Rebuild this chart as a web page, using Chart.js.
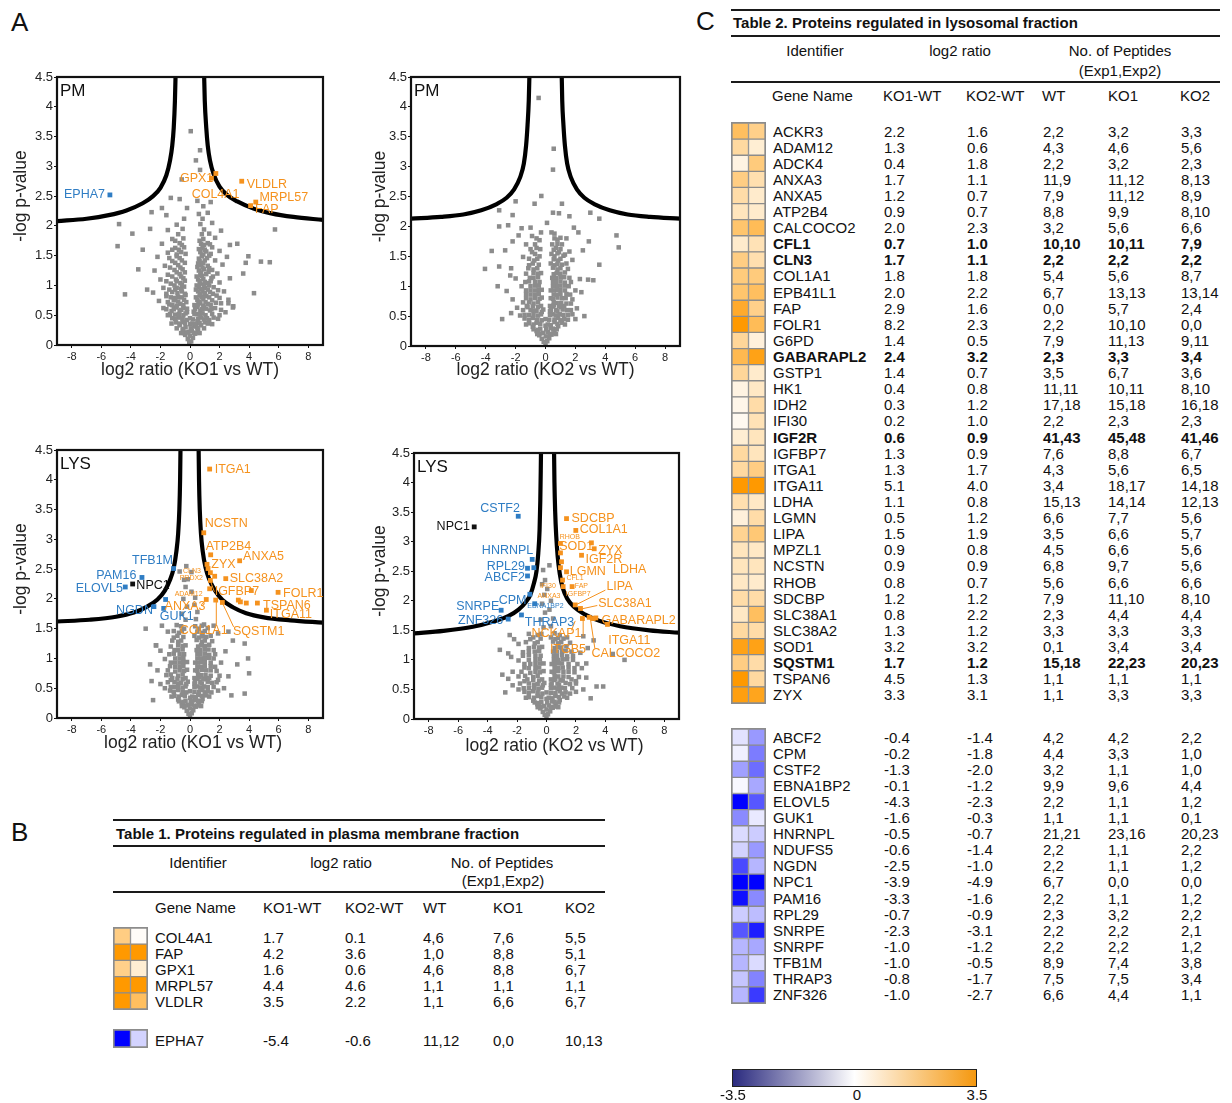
<!DOCTYPE html>
<html lang="en">
<head>
<meta charset="UTF-8">
<title>Volcano plots and regulated proteins</title>
<script src="https://cdn.jsdelivr.net/npm/chart.js"></script>
<style>
  body { margin: 0; background: #fff; font-family: 'Liberation Sans', Arial, sans-serif; color: #111; }
  #page { position: relative; width: 1232px; height: 1103px; overflow: hidden; }
  .abs { position: absolute; white-space: nowrap; line-height: 1; }
  .rule { position: absolute; height: 2px; background: #1a1a1a; }
  canvas { position: absolute; }
  .heat { outline: 1px solid #8c8c8c; }
  #cbar { position: absolute; left: 732px; top: 1069px; width: 243px; height: 16px; border: 1px solid #222;
          background: linear-gradient(to right, #2b2b7f 0%, #ffffff 50%, #f5980f 100%); }
</style>
</head>
<body>
<div id="page"><div id="cbar"></div></div>
<script>
// ---------- data: volcano plots ----------
const xTicks = [-8, -6, -4, -2, 0, 2, 4, 6, 8];
const yTicks = [0, 0.5, 1, 1.5, 2, 2.5, 3, 3.5, 4, 4.5];

// PM, KO1 vs WT
const pm1Gray = [
  [-0.05,0.03],[0.08,0.06],[-0.15,0.1],[0.2,0.12],[0.0,0.15],[-0.32,0.17],[0.35,0.19],[-0.1,0.22],[0.12,0.24],[-0.5,0.25],[0.55,0.26],[-0.3,0.3],[0.3,0.31],[-0.7,0.33],[0.75,0.33],[0.0,0.35],
  [-0.95,0.38],[-0.5,0.39],[0.5,0.4],[1.0,0.38],[-0.2,0.42],[0.2,0.43],[1.3,0.42],[-1.2,0.45],[-0.75,0.46],[0.75,0.46],[1.6,0.46],
  [-1.5,0.5],[-1.0,0.51],[-0.45,0.5],[0.45,0.52],[1.05,0.5],[2.0,0.5],[-0.2,0.55],[0.25,0.56],[-1.25,0.57],[-0.7,0.58],[0.7,0.57],[1.35,0.58],[2.4,0.55],
  [-1.8,0.62],[-0.95,0.63],[-0.45,0.62],[0.5,0.64],[0.95,0.63],[1.7,0.62],[2.9,0.63],[-1.4,0.68],[-0.65,0.69],[0.7,0.7],[1.2,0.69],[2.1,0.7],
  [-2.1,0.74],[-1.1,0.75],[-0.4,0.76],[0.5,0.76],[0.9,0.77],[1.5,0.75],[2.6,0.76],[-1.6,0.82],[-0.8,0.81],[-0.3,0.84],[0.65,0.83],[1.1,0.82],[1.8,0.83],
  [-2.5,0.88],[-1.2,0.89],[-0.55,0.9],[0.55,0.9],[0.85,0.9],[1.35,0.89],[2.3,0.9],[-1.8,0.96],[-0.9,0.96],[-0.4,0.98],[0.6,0.97],[1.0,0.96],[1.6,0.97],
  [-1.3,1.03],[-0.65,1.04],[0.7,1.03],[1.2,1.04],[2.0,1.05],[-2.0,1.1],[-0.95,1.1],[-0.45,1.12],[0.55,1.1],[0.9,1.11],[1.45,1.12],[2.7,1.12],
  [-1.5,1.18],[-0.7,1.19],[0.7,1.18],[1.1,1.19],[1.85,1.2],[-2.4,1.25],[-1.05,1.26],[-0.5,1.27],[0.6,1.25],[0.95,1.27],[1.5,1.26],
  [-1.7,1.33],[-0.8,1.34],[0.75,1.34],[1.2,1.33],[2.2,1.35],[-1.2,1.41],[-0.55,1.42],[0.65,1.41],[1.0,1.42],[1.7,1.42],[-2.2,1.48],[-0.9,1.49],[0.8,1.49],[1.3,1.5],[2.5,1.48],
  [-1.5,1.55],[-0.6,1.56],[0.7,1.56],[1.1,1.57],[2.0,1.58],[-1.0,1.63],[-0.4,1.64],[0.85,1.63],[1.5,1.64],[-1.9,1.7],[-0.7,1.71],[0.75,1.7],[1.2,1.71],[2.7,1.68],
  [-1.2,1.78],[-0.45,1.79],[0.9,1.78],[1.7,1.8],[-0.8,1.86],[0.8,1.86],[1.3,1.87],[-1.5,1.93],[-0.5,1.95],[0.95,1.94],[2.1,1.92],[-0.9,2.02],[0.7,2.03],[1.5,2.05],
  [-0.4,2.12],[0.85,2.12],[-1.6,2.18],[0.6,2.2],[1.2,2.22],[-0.2,2.3],[0.9,2.33],[0.5,2.42],[1.4,2.4],[-0.7,2.45],
  [0.05,3.59],[0.68,3.27],[0.4,3.1],[0.68,2.94],[-0.56,2.78],[-1.3,2.47],[-2.6,2.23],[-1.9,2.3],[-4.8,2.03],[-3.9,1.87],[-4.9,1.66],[-3.5,1.27],[-2.9,0.93],[-4.4,0.85],
  [5.75,1.94],[3.95,1.49],[3.77,1.38],[4.8,1.4],[5.4,1.39],[4.33,0.87],[2.93,0.65],[2.6,0.7],[-3.2,1.6],[-2.7,1.95],[3.2,1.7],[3.6,1.2]
];
const pm1Dense = [
  [-0.6,0.2],[-0.4,0.2],[-0.2,0.21],[0.25,0.2],[0.45,0.21],[0.65,0.2],[-0.9,0.28],[-0.45,0.27],[0.05,0.28],[0.5,0.29],[0.95,0.28],
  [-1.25,0.36],[-0.7,0.36],[-0.35,0.37],[0.15,0.36],[0.4,0.35],[0.65,0.37],[1.2,0.36],[1.5,0.35],[-1.0,0.44],[-0.5,0.44],[0.0,0.45],[0.55,0.44],[0.95,0.43],[1.15,0.45],[1.9,0.44],
  [-1.35,0.52],[-0.75,0.52],[-0.3,0.53],[0.3,0.52],[0.65,0.51],[0.85,0.53],[1.5,0.52],[-1.6,0.6],[-1.1,0.6],[-0.6,0.59],[-0.2,0.61],[0.35,0.6],[0.8,0.6],[1.1,0.61],[1.45,0.6],[2.1,0.59],
  [-1.2,0.67],[-0.9,0.66],[-0.45,0.67],[0.3,0.67],[0.55,0.68],[0.9,0.66],[1.4,0.67],[-1.5,0.72],[-0.8,0.73],[-0.25,0.72],[0.6,0.73],[1.05,0.72],[1.75,0.71],
  [-1.3,0.8],[-1.0,0.79],[-0.55,0.8],[0.4,0.8],[0.8,0.81],[1.3,0.8],[2.0,0.79],[-1.6,0.86],[-0.85,0.87],[-0.35,0.86],[0.7,0.86],[1.0,0.87],[1.55,0.86],
  [-1.4,0.93],[-1.0,0.93],[-0.6,0.94],[0.4,0.93],[0.75,0.94],[1.2,0.93],[1.9,0.92],[-1.05,1.0],[-0.55,1.01],[0.45,1.0],[0.95,1.01],[1.3,1.0],
  [-1.6,1.07],[-0.9,1.07],[-0.35,1.08],[0.65,1.07],[1.0,1.06],[1.4,1.07],[-1.2,1.15],[-0.6,1.15],[0.45,1.15],[0.8,1.16],[1.55,1.15],
  [-0.9,1.22],[-0.35,1.22],[0.75,1.22],[1.25,1.23],[-1.35,1.3],[-0.65,1.3],[0.5,1.31],[0.85,1.3],[1.3,1.29],[-1.0,1.38],[-0.35,1.38],[0.55,1.37],[0.9,1.38],
  [-1.4,1.46],[-0.7,1.46],[0.6,1.45],[1.15,1.46],[-0.9,1.52],[-0.3,1.53],[0.9,1.52],[1.4,1.53],[-1.2,1.6],[-0.75,1.6],[0.6,1.61],[1.0,1.6],[-0.55,1.68],[0.95,1.68],[1.35,1.69],[-1.0,1.75],[0.65,1.75]
];
const pm1CurveL = [[-9,2.08],[-7,2.12],[-5.5,2.18],[-4.3,2.26],[-3.2,2.38],[-2.5,2.5],[-2.0,2.64],[-1.6,2.85],[-1.35,3.1],[-1.2,3.35],[-1.1,3.65],[-1.02,4.1],[-0.97,4.6]];
const pm1CurveR = [[0.95,4.6],[1.0,4.1],[1.1,3.65],[1.2,3.35],[1.35,3.1],[1.6,2.87],[2.0,2.66],[2.5,2.52],[3.2,2.41],[4.3,2.29],[5.5,2.21],[7,2.15],[9,2.1]];
const pm1Hits = [[-5.42,2.52],[1.45,2.8],[1.75,2.88],[3.5,2.75],[4.45,2.4],[4.1,2.34]];
const pm1HitKind = ['down','up','up','up','up','up'];

// PM, KO2 vs WT
const pm2Gray = [
  [0.0,0.03],[-0.12,0.07],[0.12,0.08],[-0.25,0.12],[0.25,0.13],[0.02,0.16],[-0.42,0.18],[0.4,0.19],[-0.15,0.22],[0.15,0.23],[-0.6,0.25],[0.6,0.26],[-0.35,0.29],[0.35,0.3],[-0.85,0.32],[0.85,0.33],[0.0,0.34],
  [-1.1,0.38],[-0.6,0.39],[0.6,0.4],[1.1,0.39],[-0.25,0.43],[0.25,0.44],[1.5,0.44],[-1.4,0.46],[-0.85,0.47],[0.85,0.47],[2.0,0.45],
  [-1.7,0.51],[-1.1,0.52],[-0.5,0.51],[0.5,0.53],[1.2,0.52],[1.8,0.53],[-2.3,0.55],[-0.25,0.57],[0.3,0.58],[-0.8,0.59],[0.8,0.58],[1.45,0.6],
  [-1.9,0.64],[-1.2,0.65],[-0.5,0.65],[0.5,0.66],[1.05,0.65],[2.1,0.63],[-0.8,0.71],[0.75,0.72],[1.4,0.71],[-1.5,0.73],
  [-2.2,0.78],[-1.0,0.78],[-0.4,0.79],[0.5,0.79],[1.1,0.8],[1.8,0.78],[-0.7,0.86],[0.75,0.86],[1.4,0.87],[-1.3,0.87],
  [-2.6,0.92],[-1.0,0.93],[-0.45,0.94],[0.55,0.93],[1.0,0.94],[2.0,0.93],[-1.6,1.0],[-0.7,1.01],[0.75,1.0],[1.3,1.01],[-0.4,1.07],[0.5,1.07],[1.0,1.08],[1.7,1.07],[-1.1,1.08],
  [-2.0,1.13],[-0.8,1.14],[0.7,1.14],[1.25,1.15],[2.3,1.12],[-1.3,1.21],[-0.5,1.21],[0.55,1.2],[1.0,1.21],[-0.8,1.28],[0.8,1.28],[1.5,1.29],[-2.3,1.3],[-1.1,1.35],[-0.45,1.36],[0.6,1.35],[1.1,1.36],
  [-0.75,1.43],[0.85,1.43],[1.8,1.44],[-1.5,1.49],[-0.4,1.5],[0.6,1.5],[1.2,1.51],[-0.9,1.57],[0.9,1.57],[1.6,1.58],[-0.6,1.64],[0.7,1.64],[-1.3,1.7],[1.1,1.7],[-0.4,1.77],[0.8,1.78],[1.4,1.8],[-0.9,1.84],[0.6,1.88],
  [-0.46,4.15],[0.55,3.3],[0.5,2.95],[-0.28,2.51],[-0.73,2.38],[-2.0,2.42],[1.1,2.38],[-3.1,2.27],[-2.2,2.19],[0.5,2.23],[0.9,2.22],[1.6,2.17],[3.0,2.23],[3.6,2.13],
  [-3.1,2.0],[-2.5,2.02],[-1.6,1.97],[-1.0,1.98],[0.1,2.06],[1.9,1.98],[2.2,1.9],[4.75,1.85],[4.9,1.65],[3.6,1.36],[2.85,1.11],[3.2,1.1],[2.5,1.6],[2.9,1.75],
  [-3.6,1.59],[-4.05,1.29],[-3.1,1.33],[-2.7,1.6],[-2.36,1.18],[-2.9,0.45],[-2.2,1.75],[-1.8,1.85],[2.4,0.9],[2.6,0.5],[-3.2,1.0]
];
const pm2Dense = [
  [-0.55,0.2],[-0.35,0.21],[0.3,0.2],[0.5,0.21],[0.7,0.2],[-0.8,0.28],[-0.5,0.27],[0.05,0.28],[0.5,0.29],[0.75,0.28],
  [-1.3,0.36],[-0.8,0.36],[-0.35,0.37],[0.15,0.36],[0.35,0.35],[0.8,0.37],[1.3,0.36],[-1.1,0.44],[-0.55,0.44],[0.0,0.45],[0.6,0.44],[1.0,0.43],[1.25,0.45],
  [-1.4,0.52],[-0.8,0.52],[-0.3,0.53],[0.3,0.52],[0.7,0.51],[0.95,0.53],[1.5,0.52],[-1.5,0.6],[-1.0,0.6],[-0.6,0.59],[-0.15,0.61],[0.35,0.6],[0.7,0.6],[1.15,0.61],[1.7,0.6],
  [-1.25,0.67],[-0.85,0.66],[-0.3,0.67],[0.3,0.67],[0.55,0.68],[0.9,0.66],[1.25,0.67],[-1.1,0.73],[-0.5,0.73],[0.55,0.73],[1.05,0.72],[1.7,0.71],
  [-1.3,0.8],[-0.7,0.8],[-0.25,0.81],[0.35,0.8],[0.8,0.81],[1.35,0.8],[-1.0,0.86],[-0.45,0.87],[0.55,0.86],[1.0,0.87],[1.65,0.86],
  [-1.3,0.93],[-0.7,0.93],[-0.25,0.94],[0.35,0.93],[0.8,0.94],[1.3,0.93],[-1.0,1.0],[-0.45,1.01],[0.5,1.0],[1.0,1.01],[1.55,1.0],
  [-1.35,1.07],[-0.7,1.07],[0.7,1.07],[1.3,1.06],[-1.05,1.14],[-0.5,1.15],[0.45,1.14],[1.0,1.15],[1.6,1.14],[-0.8,1.22],[-0.3,1.22],[0.75,1.22],[1.3,1.23],
  [-1.15,1.3],[-0.55,1.3],[0.5,1.31],[1.0,1.3],[-0.85,1.38],[0.35,1.38],[0.8,1.37],[1.4,1.38],[-1.1,1.46],[-0.55,1.46],[0.55,1.45],[1.0,1.46],
  [-0.7,1.54],[0.4,1.54],[0.8,1.55],[1.3,1.53],[-1.0,1.62],[-0.35,1.62],[0.55,1.61],[1.0,1.62],[-0.7,1.7],[0.45,1.7],[0.8,1.71],[-0.6,1.8],[0.6,1.8],[1.0,1.81],[-0.3,1.9],[0.4,1.9]
];
const pm2CurveL = [[-9,2.13],[-7,2.16],[-5.5,2.2],[-4.3,2.27],[-3.3,2.37],[-2.6,2.48],[-2.1,2.62],[-1.7,2.82],[-1.45,3.05],[-1.3,3.35],[-1.2,3.7],[-1.12,4.1],[-1.07,4.6]];
const pm2CurveR = [[1.08,4.6],[1.12,4.1],[1.2,3.7],[1.3,3.35],[1.45,3.05],[1.7,2.82],[2.1,2.62],[2.6,2.48],[3.3,2.37],[4.3,2.27],[5.5,2.2],[7,2.16],[9,2.13]];
const pm2Hits = [];
const pm2HitKind = [];

// LYS, KO1 vs WT
const lys1Gray = [
  [0.0,0.03],[-0.1,0.07],[0.12,0.08],[-0.22,0.12],[0.22,0.13],[0.0,0.16],[-0.38,0.18],[0.4,0.19],[-0.12,0.22],[0.15,0.23],[-0.55,0.25],[0.6,0.26],[-0.3,0.29],[0.35,0.3],[-0.8,0.31],[0.85,0.32],[0.02,0.34],
  [-1.05,0.37],[-0.55,0.39],[0.55,0.39],[1.1,0.38],[-0.25,0.43],[0.3,0.44],[1.45,0.43],[-1.35,0.46],[-0.8,0.47],[0.85,0.47],[1.9,0.46],
  [-1.7,0.5],[-1.05,0.52],[-0.5,0.51],[0.5,0.53],[1.2,0.52],[2.3,0.5],[-0.25,0.57],[0.3,0.58],[-0.8,0.58],[0.8,0.58],[1.5,0.59],[-2.0,0.57],
  [-1.3,0.64],[-0.5,0.65],[0.5,0.66],[1.05,0.65],[1.9,0.64],[-0.8,0.71],[0.75,0.72],[1.4,0.71],[-1.6,0.72],[2.6,0.7],
  [-1.0,0.78],[-0.4,0.79],[0.5,0.79],[1.1,0.8],[1.8,0.79],[-2.2,0.8],[-0.7,0.86],[0.75,0.86],[1.4,0.87],[-1.35,0.87],
  [-1.0,0.93],[-0.45,0.94],[0.55,0.93],[1.0,0.94],[2.1,0.93],[-1.7,0.99],[-0.7,1.0],[0.75,1.0],[1.3,1.01],[-0.4,1.07],[0.5,1.07],[1.0,1.08],[1.7,1.07],[-1.1,1.08],
  [-2.0,1.13],[-0.8,1.14],[0.7,1.14],[1.25,1.15],[2.4,1.12],[-1.3,1.2],[-0.5,1.21],[0.55,1.2],[1.0,1.21],[-0.8,1.28],[0.8,1.28],[1.5,1.29],[-2.3,1.22],[-1.1,1.35],[-0.45,1.36],[0.6,1.35],[1.1,1.36],
  [-0.75,1.43],[0.85,1.43],[1.9,1.42],[-1.5,1.45],[-0.4,1.5],[0.6,1.5],[1.2,1.51],[-0.9,1.56],[0.95,1.57],[1.6,1.55],
  [-0.3,1.65],[0.4,1.66],[-0.55,1.75],[0.5,1.78],[-0.2,1.87],[0.3,1.9],[-0.45,2.0],[0.35,2.02],[0.1,2.12],[-0.3,2.2],[-0.15,2.33],[-0.7,2.46],[-0.25,2.55],[0.1,2.45],[-0.4,2.32],
  [-3.0,1.5],[-2.5,0.3],[3.93,1.0],[4.0,0.75],[2.8,0.38],[3.7,0.41],[-2.3,1.22],[2.9,1.3],[3.7,1.25],[-2.7,0.9],[2.6,1.45],[-1.9,1.55],[3.2,0.9],[-2.6,0.62]
];
const lys1Dense = [
  [-0.55,0.2],[-0.3,0.21],[0.3,0.2],[0.5,0.21],[0.75,0.2],[-0.75,0.28],[-0.45,0.27],[0.05,0.28],[0.55,0.29],[0.8,0.28],
  [-1.25,0.36],[-0.75,0.36],[-0.35,0.37],[0.15,0.36],[0.4,0.35],[0.8,0.37],[1.3,0.36],[-1.1,0.44],[-0.5,0.44],[0.0,0.45],[0.6,0.44],[1.0,0.43],[1.2,0.45],
  [-1.3,0.52],[-0.8,0.52],[-0.3,0.53],[0.3,0.52],[0.7,0.51],[0.95,0.53],[1.6,0.52],[-1.5,0.6],[-1.05,0.6],[-0.6,0.59],[-0.15,0.61],[0.35,0.6],[0.7,0.6],[1.2,0.61],[1.8,0.6],
  [-1.2,0.67],[-0.85,0.66],[-0.3,0.67],[0.3,0.67],[0.6,0.68],[0.9,0.66],[1.3,0.67],[-1.3,0.73],[-0.5,0.73],[0.55,0.73],[1.05,0.72],[2.0,0.71],
  [-1.5,0.8],[-0.7,0.8],[-0.2,0.81],[0.35,0.8],[0.8,0.81],[1.4,0.8],[-1.0,0.86],[-0.45,0.87],[0.5,0.86],[1.0,0.87],[1.7,0.86],
  [-1.3,0.93],[-0.7,0.93],[-0.2,0.94],[0.35,0.93],[0.8,0.94],[1.4,0.93],[-1.0,1.0],[-0.45,1.01],[0.5,1.0],[1.0,1.01],[1.6,1.0],
  [-1.4,1.07],[-0.7,1.07],[0.7,1.07],[1.3,1.06],[-1.05,1.14],[-0.5,1.15],[0.45,1.14],[1.0,1.15],[1.6,1.14],[-0.8,1.22],[-0.3,1.22],[0.75,1.22],[1.3,1.23],
  [-1.2,1.3],[-0.6,1.3],[0.45,1.31],[1.0,1.3],[-0.85,1.38],[0.3,1.38],[0.8,1.37],[1.4,1.38],[-1.1,1.46],[-0.55,1.46],[0.5,1.45],[1.0,1.46],[-0.6,1.54],[0.35,1.54],[0.8,1.55]
];
const lys1CurveL = [[-9,1.62],[-6.8,1.65],[-5.0,1.7],[-3.8,1.77],[-2.9,1.87],[-2.2,1.99],[-1.7,2.14],[-1.35,2.32],[-1.1,2.52],[-0.92,2.8],[-0.8,3.1],[-0.72,3.5],[-0.67,4.0],[-0.64,4.6]];
const lys1CurveR = [[0.58,4.6],[0.61,4.0],[0.66,3.5],[0.74,3.1],[0.86,2.8],[1.05,2.53],[1.3,2.33],[1.7,2.14],[2.2,1.98],[2.9,1.86],[3.8,1.76],[5.0,1.69],[6.8,1.64],[9,1.6]];
const lys1Hits = [
  [1.33,4.18],[0.93,3.11],[1.40,2.74],[1.15,2.58],[3.36,2.64],[1.22,2.51],[1.38,2.44],[1.67,2.38],[2.42,2.34],[1.38,2.31],[1.33,2.17],[4.15,2.14],[5.96,2.11],
  [1.74,1.98],[2.19,1.94],[3.27,1.98],[3.41,1.95],[3.81,1.93],[4.56,1.93],[5.17,1.81],[1.1,1.99],
  [-1.11,2.51],[-3.25,2.36],[-4.38,2.2],[-2.44,1.87],[-1.65,1.99],[-1.78,1.84],[-3.88,2.25]
];
const lys1HitKind = ['up','up','up','up','up','up','up','up','up','up','up','up','up','up','up','up','up','up','up','up','up',
  'down','down','down','down','down','down','npc'];

// LYS, KO2 vs WT
const lys2Gray = [
  [0.0,0.03],[-0.12,0.07],[0.1,0.08],[-0.25,0.12],[0.25,0.13],[0.0,0.16],[-0.42,0.18],[0.42,0.19],[-0.15,0.22],[0.18,0.23],[-0.62,0.25],[0.62,0.26],[-0.35,0.29],[0.38,0.3],[-0.9,0.31],[0.9,0.32],[0.0,0.34],
  [-1.2,0.37],[-0.6,0.39],[0.6,0.39],[1.2,0.38],[-0.28,0.43],[0.3,0.44],[1.6,0.43],[-1.5,0.46],[-0.9,0.47],[0.9,0.47],[2.0,0.46],
  [-1.9,0.5],[-1.2,0.52],[-0.55,0.51],[0.55,0.53],[1.25,0.52],[2.5,0.5],[-0.25,0.57],[0.3,0.58],[-0.85,0.58],[0.85,0.58],[1.6,0.59],[-2.3,0.57],
  [-1.5,0.64],[-0.5,0.65],[0.5,0.66],[1.1,0.65],[2.0,0.64],[-0.9,0.71],[0.8,0.72],[1.5,0.71],[-1.9,0.72],[2.7,0.7],[-2.6,0.68],
  [-1.1,0.78],[-0.45,0.79],[0.5,0.79],[1.15,0.8],[1.9,0.79],[-2.3,0.8],[-0.75,0.86],[0.8,0.86],[1.5,0.87],[-1.5,0.87],[2.4,0.86],
  [-1.1,0.93],[-0.45,0.94],[0.55,0.93],[1.05,0.94],[2.1,0.93],[-1.9,0.99],[-0.75,1.0],[0.8,1.0],[1.4,1.01],[-0.4,1.07],[0.5,1.07],[1.05,1.08],[1.8,1.07],[-1.2,1.08],[-2.4,1.05],
  [-1.6,1.13],[-0.8,1.14],[0.7,1.14],[1.3,1.15],[2.3,1.12],[-1.2,1.2],[-0.5,1.21],[0.55,1.2],[1.0,1.21],[-0.8,1.28],[0.8,1.28],[1.6,1.29],[-1.9,1.27],[-1.1,1.35],[-0.4,1.36],[0.6,1.35],[1.15,1.36],[-0.6,1.42],[0.9,1.42],
  [-0.2,1.55],[0.3,1.57],[-0.4,1.68],[0.45,1.7],[-0.1,1.8],[0.2,1.85],[-0.3,1.95],[0.3,2.0],[-0.15,2.1],[0.05,2.2],[-0.1,2.35],[-0.23,2.52],[0.2,2.6],[-0.3,2.28],
  [-3.17,1.17],[-2.6,1.11],[-2.2,1.35],[3.4,0.55],[3.85,0.55],[5.3,1.0],[4.5,1.1],[2.7,0.94],[3.2,1.33],[2.8,1.2],[-3.0,0.75],[3.0,0.35],[-2.8,0.45],[2.5,1.4],[-2.5,1.42]
];
const lys2Dense = [
  [-0.6,0.2],[-0.35,0.21],[0.3,0.2],[0.55,0.21],[0.8,0.2],[-0.8,0.28],[-0.5,0.27],[0.05,0.28],[0.55,0.29],[0.85,0.28],
  [-1.4,0.36],[-0.85,0.36],[-0.35,0.37],[0.15,0.36],[0.4,0.35],[0.85,0.37],[1.4,0.36],[-1.2,0.44],[-0.6,0.44],[0.0,0.45],[0.6,0.44],[1.05,0.43],[1.3,0.45],
  [-1.55,0.52],[-0.85,0.52],[-0.3,0.53],[0.3,0.52],[0.75,0.51],[1.0,0.53],[1.75,0.52],[-1.8,0.6],[-1.2,0.6],[-0.6,0.59],[-0.15,0.61],[0.35,0.6],[0.75,0.6],[1.3,0.61],[2.0,0.6],
  [-1.3,0.67],[-0.9,0.66],[-0.3,0.67],[0.3,0.67],[0.6,0.68],[0.95,0.66],[1.7,0.67],[-1.45,0.73],[-0.6,0.73],[0.55,0.73],[1.15,0.72],[2.2,0.71],
  [-1.7,0.8],[-0.75,0.8],[-0.2,0.81],[0.35,0.8],[0.8,0.81],[1.5,0.8],[-1.2,0.86],[-0.5,0.87],[0.55,0.86],[1.1,0.87],[1.9,0.86],
  [-1.5,0.93],[-0.75,0.93],[-0.2,0.94],[0.35,0.93],[0.8,0.94],[1.5,0.93],[-1.2,1.0],[-0.45,1.01],[0.5,1.0],[1.1,1.01],[1.8,1.0],
  [-1.6,1.07],[-0.75,1.07],[0.7,1.07],[1.4,1.06],[-1.2,1.14],[-0.5,1.15],[0.45,1.14],[1.05,1.15],[1.7,1.14],[-0.85,1.22],[-0.3,1.22],[0.75,1.22],[1.35,1.23],
  [-1.4,1.3],[-0.6,1.3],[0.45,1.31],[1.0,1.3],[-0.9,1.38],[0.3,1.38],[0.8,1.37],[1.4,1.38],[-1.2,1.44],[-0.35,1.44],[0.55,1.45]
];
const lys2CurveL = [[-9,1.45],[-7,1.49],[-5.0,1.56],[-3.6,1.65],[-2.6,1.74],[-1.9,1.85],[-1.4,1.98],[-1.1,2.1],[-0.85,2.3],[-0.68,2.5],[-0.56,2.8],[-0.47,3.2],[-0.42,3.7],[-0.39,4.2],[-0.37,4.6]];
const lys2CurveR = [[0.51,4.6],[0.54,4.0],[0.59,3.5],[0.66,3.1],[0.76,2.75],[0.9,2.46],[1.1,2.22],[1.4,2.04],[1.9,1.89],[2.6,1.77],[3.6,1.66],[5.0,1.57],[7,1.5],[9,1.46]];
const lys2Hits = [
  [-1.92,3.43],[-0.97,2.7],[-1.29,2.55],[-0.86,2.56],[-1.29,2.42],[-1.13,2.11],[-3.08,1.84],[-2.6,1.69],[-1.7,1.76],[-0.8,1.95],[-4.91,3.25],
  [1.36,3.39],[1.99,3.19],[0.95,2.97],[3.05,2.98],[3.24,2.88],[2.38,2.77],[1.36,2.49],[0.95,2.81],[1.02,2.66],[0.95,2.56],[1.09,2.35],[1.13,2.24],[1.74,2.24],
  [1.95,1.93],[2.31,1.87],[3.35,1.71],[3.17,1.7],[4.14,1.6],[2.44,1.7],[2.9,1.72]
];
const lys2HitKind = ['down','down','down','down','down','down','down','down','down','down','npc',
  'up','up','up','up','up','up','up','up','up','up','up','up','up','up','up','up','up','up','up','up'];

// ---------- data: tables ----------
const t1Genes = ['COL4A1', 'FAP', 'GPX1', 'MRPL57', 'VLDLR'];
const t1Ko1 = [1.7, 4.2, 1.6, 4.4, 3.5];
const t1Ko2 = [0.1, 3.6, 0.6, 4.6, 2.2];
const t1PepWt = ['4,6', '1,0', '4,6', '1,1', '1,1'];
const t1PepKo1 = ['7,6', '8,8', '8,8', '1,1', '6,6'];
const t1PepKo2 = ['5,5', '5,1', '6,7', '1,1', '6,7'];
const t1DownGenes = ['EPHA7'];
const t1DownKo1 = [-5.4];
const t1DownKo2 = [-0.6];
const t1DownPepWt = ['11,12'];
const t1DownPepKo1 = ['0,0'];
const t1DownPepKo2 = ['10,13'];

const t2Genes = ['ACKR3','ADAM12','ADCK4','ANXA3','ANXA5','ATP2B4','CALCOCO2','CFL1','CLN3','COL1A1','EPB41L1','FAP','FOLR1','G6PD',
  'GABARAPL2','GSTP1','HK1','IDH2','IFI30','IGF2R','IGFBP7','ITGA1','ITGA11','LDHA','LGMN','LIPA','MPZL1','NCSTN','RHOB','SDCBP',
  'SLC38A1','SLC38A2','SOD1','SQSTM1','TSPAN6','ZYX'];
const t2Ko1 = [2.2,1.3,0.4,1.7,1.2,0.9,2.0,0.7,1.7,1.8,2.0,2.9,8.2,1.4,2.4,1.4,0.4,0.3,0.2,0.6,1.3,1.3,5.1,1.1,0.5,1.5,0.9,0.9,0.8,1.2,0.8,1.3,3.2,1.7,4.5,3.3];
const t2Ko2 = [1.6,0.6,1.8,1.1,0.7,0.7,2.3,1.0,1.1,1.8,2.2,1.6,2.3,0.5,3.2,0.7,0.8,1.2,1.0,0.9,0.9,1.7,4.0,0.8,1.2,1.9,0.8,0.9,0.7,1.2,2.2,1.2,3.2,1.2,1.3,3.1];
const t2PepWt = ['2,2','4,3','2,2','11,9','7,9','8,8','3,2','10,10','2,2','5,4','6,7','0,0','2,2','7,9','2,3','3,5','11,11','17,18','2,2','41,43',
  '7,6','4,3','3,4','15,13','6,6','3,5','4,5','6,8','5,6','7,9','2,3','3,3','0,1','15,18','1,1','1,1'];
const t2PepKo1 = ['3,2','4,6','3,2','11,12','11,12','9,9','5,6','10,11','2,2','5,6','13,13','5,7','10,10','11,13','3,3','6,7','10,11','15,18','2,3','45,48',
  '8,8','5,6','18,17','14,14','7,7','6,6','6,6','9,7','6,6','11,10','4,4','3,3','3,4','22,23','1,1','3,3'];
const t2PepKo2 = ['3,3','5,6','2,3','8,13','8,9','8,10','6,6','7,9','2,2','8,7','13,14','2,4','0,0','9,11','3,4','3,6','8,10','16,18','2,3','41,46',
  '6,7','6,5','14,18','12,13','5,6','5,7','5,6','5,6','6,6','8,10','4,4','3,3','3,4','20,23','1,1','3,3'];
const t2Bold = ['CFL1', 'CLN3', 'GABARAPL2', 'IGF2R', 'SQSTM1'];

const t2DownGenes = ['ABCF2','CPM','CSTF2','EBNA1BP2','ELOVL5','GUK1','HNRNPL','NDUFS5','NGDN','NPC1','PAM16','RPL29','SNRPE','SNRPF','TFB1M','THRAP3','ZNF326'];
const t2DownKo1 = [-0.4,-0.2,-1.3,-0.1,-4.3,-1.6,-0.5,-0.6,-2.5,-3.9,-3.3,-0.7,-2.3,-1.0,-1.0,-0.8,-1.0];
const t2DownKo2 = [-1.4,-1.8,-2.0,-1.2,-2.3,-0.3,-0.7,-1.4,-1.0,-4.9,-1.6,-0.9,-3.1,-1.2,-0.5,-1.7,-2.7];
const t2DownPepWt = ['4,2','4,4','3,2','9,9','2,2','1,1','21,21','2,2','2,2','6,7','2,2','2,3','2,2','2,2','8,9','7,5','6,6'];
const t2DownPepKo1 = ['4,2','3,3','1,1','9,6','1,1','1,1','23,16','1,1','1,1','0,0','1,1','3,2','2,2','2,2','7,4','7,5','4,4'];
const t2DownPepKo2 = ['2,2','1,0','1,0','4,4','1,2','0,1','20,23','2,2','1,2','0,0','1,2','2,2','2,1','1,2','3,8','3,4','1,1'];

// ---------- styling / layout ----------
const FONT = "'Liberation Sans', Arial, sans-serif";
const ORANGE = '#f5921e';
const BLUE = '#2f7dc4';
const kindColor = { up: ORANGE, down: BLUE, npc: '#111' };
Chart.defaults.font.family = FONT;

// gene annotations, placed in data units of each panel
const pm1Labels = [
  { t: 'EPHA7', x: -5.75, y: 2.52, a: 'right', k: 'down' },
  { t: 'GPX1', x: -0.68, y: 2.8, k: 'up' },
  { t: 'COL4A1', x: 0.11, y: 2.52, k: 'up' },
  { t: 'VLDLR', x: 3.84, y: 2.69, k: 'up' },
  { t: 'MRPL57', x: 4.7, y: 2.48, k: 'up' },
  { t: 'FAP', x: 4.4, y: 2.27, k: 'up' }
];
const lys1Labels = [
  { t: 'ITGA1', x: 1.67, y: 4.18, k: 'up' },
  { t: 'NCSTN', x: 0.99, y: 3.26, k: 'up' },
  { t: 'ATP2B4', x: 1.06, y: 2.88, k: 'up' },
  { t: 'ZYX', x: 1.44, y: 2.57, k: 'up' },
  { t: 'ANXA5', x: 3.59, y: 2.71, k: 'up' },
  { t: 'SLC38A2', x: 2.69, y: 2.34, k: 'up' },
  { t: 'IGFBP7', x: 1.67, y: 2.12, k: 'up' },
  { t: 'FOLR1', x: 6.3, y: 2.09, k: 'up' },
  { t: 'TSPAN6', x: 4.94, y: 1.89, k: 'up' },
  { t: 'ITGA11', x: 5.4, y: 1.73, k: 'up' },
  { t: 'SQSTM1', x: 2.91, y: 1.45, k: 'up' },
  { t: 'COL1A1', x: -0.7, y: 1.47, k: 'up' },
  { t: 'ANXA3', x: -1.72, y: 1.87, k: 'up' },
  { t: 'CLN3', x: -0.47, y: 2.46, k: 'up', s: 7 },
  { t: 'PRDX2', x: -0.7, y: 2.35, k: 'up', s: 7 },
  { t: 'ADAM12', x: -1.04, y: 2.08, k: 'up', s: 7 },
  { t: 'TFB1M', x: -1.15, y: 2.65, a: 'right', k: 'down' },
  { t: 'PAM16', x: -3.63, y: 2.4, a: 'right', k: 'down' },
  { t: 'ELOVL5', x: -4.54, y: 2.17, a: 'right', k: 'down' },
  { t: 'NPC1', x: -3.63, y: 2.22, k: 'npc' },
  { t: 'NGDN', x: -2.51, y: 1.8, a: 'right', k: 'down' },
  { t: 'GUK1', x: -2.05, y: 1.7, k: 'down' }
];
const lys1Leaders = [[2.95, 1.53, 2.2, 1.93], [1.78, 1.55, 1.78, 1.95], [0.75, 1.9, 1.1, 1.99], [1.65, 2.12, 1.38, 2.3]];
const lys2Labels = [
  { t: 'CSTF2', x: -1.81, y: 3.56, a: 'right', k: 'down' },
  { t: 'NPC1', x: -5.2, y: 3.26, a: 'right', k: 'npc' },
  { t: 'HNRNPL', x: -0.9, y: 2.85, a: 'right', k: 'down' },
  { t: 'RPL29', x: -1.47, y: 2.58, a: 'right', k: 'down' },
  { t: 'ABCF2', x: -1.47, y: 2.39, a: 'right', k: 'down' },
  { t: 'CPM', x: -1.36, y: 2.01, a: 'right', k: 'down' },
  { t: 'SNRPE', x: -3.21, y: 1.91, a: 'right', k: 'down' },
  { t: 'ZNF326', x: -2.94, y: 1.67, a: 'right', k: 'down' },
  { t: 'THRAP3', x: -1.47, y: 1.64, k: 'down' },
  { t: 'EBNA1BP2', x: -1.3, y: 1.91, k: 'down', s: 7 },
  { t: 'SDCBP', x: 1.7, y: 3.39, k: 'up' },
  { t: 'COL1A1', x: 2.26, y: 3.2, k: 'up' },
  { t: 'RHOB', x: 0.9, y: 3.08, k: 'up', s: 7 },
  { t: 'SOD1', x: 0.86, y: 2.91, k: 'up' },
  { t: 'ZYX', x: 3.51, y: 2.85, k: 'up' },
  { t: 'IGF2R', x: 2.65, y: 2.7, k: 'up' },
  { t: 'LGMN', x: 1.58, y: 2.49, k: 'up' },
  { t: 'LDHA', x: 4.52, y: 2.52, k: 'up' },
  { t: 'CFL1', x: 1.36, y: 2.38, k: 'up', s: 7 },
  { t: 'FAP', x: 1.92, y: 2.25, k: 'up', s: 7 },
  { t: 'IFI30', x: -0.45, y: 2.25, k: 'up', s: 7 },
  { t: 'IGFBP7', x: 1.31, y: 2.12, k: 'up', s: 7 },
  { t: 'ANXA3', x: -0.61, y: 2.08, k: 'up', s: 7 },
  { t: 'LIPA', x: 4.07, y: 2.24, k: 'up' },
  { t: 'SLC38A1', x: 3.51, y: 1.95, k: 'up' },
  { t: 'GABARAPL2', x: 3.73, y: 1.67, k: 'up' },
  { t: 'ITGA11', x: 4.19, y: 1.33, k: 'up' },
  { t: 'CALCOCO2', x: 3.05, y: 1.11, k: 'up' },
  { t: 'NCKAP1', x: -1.02, y: 1.45, k: 'up' },
  { t: 'ITGB5', x: 0.23, y: 1.17, k: 'up' }
];
const lys2Leaders = [[4.0, 2.18, 1.98, 1.93], [3.45, 1.92, 2.33, 1.86], [3.28, 1.2, 2.98, 1.7], [2.49, 1.4, 2.49, 1.68], [1.7, 1.5, 1.95, 1.66]];

const page = document.getElementById('page');

function text(x, y, str, size, opts) {
  opts = opts || {};
  const d = document.createElement('div');
  d.className = 'abs';
  d.textContent = str;
  d.style.left = x + 'px';
  d.style.top = (y - size / 2) + 'px';
  d.style.fontSize = size + 'px';
  if (opts.bold) d.style.fontWeight = 'bold';
  if (opts.center) d.style.transform = 'translateX(-50%)';
  page.appendChild(d);
}

function rule(x, y, w) {
  const d = document.createElement('div');
  d.className = 'rule';
  d.style.left = x + 'px';
  d.style.top = (y - 1) + 'px';
  d.style.width = w + 'px';
  page.appendChild(d);
}

function makeCanvas(x, y, w, h, cls) {
  const c = document.createElement('canvas');
  c.width = w;
  c.height = h;
  c.style.left = x + 'px';
  c.style.top = y + 'px';
  if (cls) c.className = cls;
  page.appendChild(c);
  return c;
}

const pts = arr => arr.map(([x, y]) => ({ x, y }));

// ---------- volcano plots ----------
function volcano(p) {
  const left = p.area[0] - 57, top = p.area[1] - 17;
  const w = p.area[2] - left + 15, h = p.area[3] - top + 45;
  const cv = makeCanvas(left, top, w, h);

  const decor = {
    id: 'decor',
    afterDatasetsDraw(chart) {
      const { ctx, chartArea: a } = chart;
      const sx = chart.scales.x, sy = chart.scales.y;
      ctx.save();
      ctx.strokeStyle = '#111';
      ctx.lineWidth = 2.2;
      ctx.strokeRect(a.left, a.top, a.right - a.left, a.bottom - a.top);

      ctx.strokeStyle = ORANGE;
      ctx.lineWidth = 1;
      (p.leaders || []).forEach(l => {
        ctx.beginPath();
        ctx.moveTo(sx.getPixelForValue(l[0]), sy.getPixelForValue(l[1]));
        ctx.lineTo(sx.getPixelForValue(l[2]), sy.getPixelForValue(l[3]));
        ctx.stroke();
      });

      ctx.textBaseline = 'middle';
      (p.labels || []).forEach(l => {
        ctx.font = (l.s || 12.5) + 'px ' + FONT;
        ctx.fillStyle = kindColor[l.k];
        ctx.textAlign = l.a || 'left';
        ctx.fillText(l.t, sx.getPixelForValue(l.x), sy.getPixelForValue(l.y));
      });

      ctx.fillStyle = '#111';
      ctx.textAlign = 'left';
      ctx.font = '17px ' + FONT;
      ctx.fillText(p.tag, a.left + 3, a.top + 14);

      ctx.fillStyle = '#222';
      ctx.textAlign = 'center';
      ctx.font = '17.5px ' + FONT;
      ctx.fillText(p.xTitle, (a.left + a.right) / 2 + (p.xTitleDx || 0), a.bottom + p.xTitleDy);
      ctx.translate(p.yTitleX - left, (a.top + a.bottom) / 2 - 15);
      ctx.rotate(-Math.PI / 2);
      ctx.fillText('-log p-value', 0, 0);
      ctx.restore();
    }
  };

  const curve = data => ({
    data: pts(data), showLine: true, borderColor: '#000', borderWidth: 4.2,
    pointRadius: 0, cubicInterpolationMode: 'monotone', order: 2
  });

  new Chart(cv, {
    type: 'scatter',
    data: {
      datasets: [
        { data: pts(p.gray.concat(p.dense)), pointStyle: 'rect', pointRadius: 3.2, backgroundColor: '#8c8c8c', borderWidth: 0, order: 3 },
        curve(p.curveL),
        curve(p.curveR),
        { data: pts(p.hits), pointStyle: 'rect', pointRadius: 3.4, backgroundColor: p.hitKind.map(k => kindColor[k]), borderWidth: 0, order: 1 }
      ]
    },
    options: {
      responsive: false,
      animation: false,
      events: [],
      devicePixelRatio: 1,
      layout: { padding: { left: 0, top: 17, right: 15, bottom: 0 } },
      plugins: { legend: { display: false }, tooltip: { enabled: false } },
      scales: {
        x: {
          type: 'linear', min: -9, max: 9,
          afterBuildTicks: s => { s.ticks = xTicks.map(v => ({ value: v })); },
          afterFit: s => { s.height = 45; },
          ticks: { font: { size: 11 }, color: '#222', padding: 2, maxRotation: 0, autoSkip: false, callback: v => String(v) },
          grid: { drawOnChartArea: false, tickLength: 3, color: '#111' },
          border: { color: '#111', width: 2 }
        },
        y: {
          type: 'linear', min: 0, max: 4.5,
          afterBuildTicks: s => { s.ticks = yTicks.map(v => ({ value: v })); },
          afterFit: s => { s.width = 57; },
          ticks: { font: { size: 13 }, color: '#222', padding: 1, callback: v => String(v) },
          grid: { drawOnChartArea: false, tickLength: 3, color: '#111' },
          border: { color: '#111', width: 2 }
        }
      }
    },
    plugins: [decor]
  });
}

volcano({ area: [57, 77, 323, 345], tag: 'PM', xTitle: 'log2 ratio (KO1 vs WT)', xTitleDy: 25, yTitleX: 21,
  gray: pm1Gray, dense: pm1Dense, curveL: pm1CurveL, curveR: pm1CurveR, hits: pm1Hits, hitKind: pm1HitKind, labels: pm1Labels });
volcano({ area: [411, 77, 680, 346], tag: 'PM', xTitle: 'log2 ratio (KO2 vs WT)', xTitleDy: 24, yTitleX: 380,
  gray: pm2Gray, dense: pm2Dense, curveL: pm2CurveL, curveR: pm2CurveR, hits: pm2Hits, hitKind: pm2HitKind, labels: [] });
volcano({ area: [57, 450, 323, 718], tag: 'LYS', xTitle: 'log2 ratio (KO1 vs WT)', xTitleDy: 25, xTitleDx: 3, yTitleX: 21,
  gray: lys1Gray, dense: lys1Dense, curveL: lys1CurveL, curveR: lys1CurveR, hits: lys1Hits, hitKind: lys1HitKind, labels: lys1Labels, leaders: lys1Leaders });
volcano({ area: [414, 453, 679, 719], tag: 'LYS', xTitle: 'log2 ratio (KO2 vs WT)', xTitleDy: 27, xTitleDx: 8, yTitleX: 380,
  gray: lys2Gray, dense: lys2Dense, curveL: lys2CurveL, curveR: lys2CurveR, hits: lys2Hits, hitKind: lys2HitKind, labels: lys2Labels, leaders: lys2Leaders });

// ---------- heat strips ----------
function heatColor(v) {
  const t = Math.min(Math.abs(v) / 3.5, 1);
  const target = v >= 0 ? [255, 153, 0] : [0, 0, 255];
  const c = target.map(ch => Math.round(255 + (ch - 255) * t));
  return 'rgb(' + c.join(',') + ')';
}

function heat(x, y, w, h, ko1, ko2) {
  const cv = makeCanvas(x, y, w, h, 'heat');
  const ds = vals => ({
    data: vals.map(() => 1),
    backgroundColor: vals.map(heatColor),
    borderColor: '#8c8c8c', borderWidth: 1, borderSkipped: false,
    categoryPercentage: 1, barPercentage: 1
  });
  new Chart(cv, {
    type: 'bar',
    data: { labels: ko1.map((_, i) => i), datasets: [ds(ko1), ds(ko2)] },
    options: {
      indexAxis: 'y', responsive: false, animation: false, events: [], devicePixelRatio: 1,
      layout: { padding: 0 },
      plugins: { legend: { display: false }, tooltip: { enabled: false } },
      scales: {
        x: { stacked: true, display: false, min: 0, max: 2 },
        y: { stacked: true, display: false }
      }
    }
  });
}

// ---------- table rows ----------
function rows(cols, y0, step, genes, ko1, ko2, wt, p1, p2, boldList) {
  genes.forEach((g, i) => {
    const y = y0 + i * step;
    const o = { bold: boldList && boldList.includes(g) };
    text(cols[0], y, g, 15, o);
    text(cols[1], y, ko1[i].toFixed(1), 15, o);
    text(cols[2], y, ko2[i].toFixed(1), 15, o);
    text(cols[3], y, wt[i], 15, o);
    text(cols[4], y, p1[i], 15, o);
    text(cols[5], y, p2[i], 15, o);
  });
}

// panel letters
text(11, 22, 'A', 26);
text(11, 832, 'B', 26);
text(696, 21, 'C', 26);

// Table 1
rule(113, 820, 492);
text(116, 833, 'Table 1. Proteins regulated in plasma membrane fraction', 15, { bold: true });
rule(113, 846, 492);
text(198, 862, 'Identifier', 15, { center: true });
text(341, 862, 'log2 ratio', 15, { center: true });
text(502, 862, 'No. of Peptides', 15, { center: true });
text(503, 880, '(Exp1,Exp2)', 15, { center: true });
rule(113, 892, 492);
const t1Cols = [155, 263, 345, 423, 493, 565];
[['Gene Name', 0], ['KO1-WT', 1], ['KO2-WT', 2], ['WT', 3], ['KO1', 4], ['KO2', 5]].forEach(([s, i]) => text(t1Cols[i], 907, s, 15));
rows(t1Cols, 937, 16.2, t1Genes, t1Ko1, t1Ko2, t1PepWt, t1PepKo1, t1PepKo2);
rows(t1Cols, 1040, 16.2, t1DownGenes, t1DownKo1, t1DownKo2, t1DownPepWt, t1DownPepKo1, t1DownPepKo2);
heat(114, 928, 33, 81, t1Ko1, t1Ko2);
heat(114, 1030, 33, 17, t1DownKo1, t1DownKo2);

// Table 2
rule(731, 10, 489);
text(733, 22, 'Table 2. Proteins regulated in lysosomal fraction', 15, { bold: true });
rule(731, 36, 489);
text(815, 50, 'Identifier', 15, { center: true });
text(960, 50, 'log2 ratio', 15, { center: true });
text(1120, 50, 'No. of Peptides', 15, { center: true });
text(1120, 70, '(Exp1,Exp2)', 15, { center: true });
rule(731, 82, 489);
const t2Cols = [773, 884, 967, 1043, 1108, 1181];
[['Gene Name', 772], ['KO1-WT', 883], ['KO2-WT', 966], ['WT', 1042], ['KO1', 1108], ['KO2', 1180]].forEach(([s, x]) => text(x, 95, s, 15));
rows(t2Cols, 131, 16.11, t2Genes, t2Ko1, t2Ko2, t2PepWt, t2PepKo1, t2PepKo2, t2Bold);
rows(t2Cols, 737, 16.1, t2DownGenes, t2DownKo1, t2DownKo2, t2DownPepWt, t2DownPepKo1, t2DownPepKo2);
heat(732, 123, 33, 580, t2Ko1, t2Ko2);
heat(732, 729, 33, 274, t2DownKo1, t2DownKo2);

// colour bar labels
text(733, 1094, '-3.5', 15, { center: true });
text(857, 1094, '0', 15, { center: true });
text(977, 1094, '3.5', 15, { center: true });
</script>
</body>
</html>
